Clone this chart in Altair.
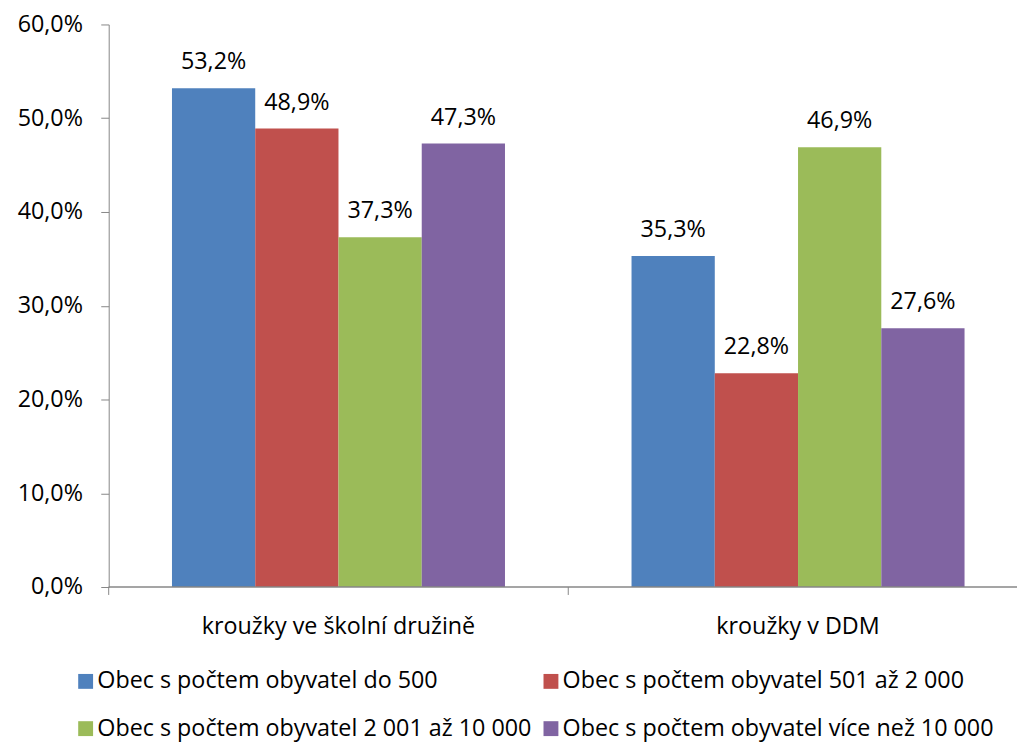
import altair as alt
import pandas as pd

categories = ["kroužky ve školní družině", "kroužky v DDM"]
series = [
    "Obec s počtem obyvatel do 500",
    "Obec s počtem obyvatel 501 až 2 000",
    "Obec s počtem obyvatel 2 001 až 10 000",
    "Obec s počtem obyvatel více než 10 000",
]
values_do_500 = [53.2, 35.3]
values_501_2000 = [48.9, 22.8]
values_2001_10000 = [37.3, 46.9]
values_nad_10000 = [47.3, 27.6]
colors = ["#4F81BD", "#C0504D", "#9BBB59", "#8064A2"]
y_ticks = [0, 10, 20, 30, 40, 50, 60]

rows = []
for s, vals in zip(series, [values_do_500, values_501_2000, values_2001_10000, values_nad_10000]):
    for c, v in zip(categories, vals):
        rows.append({"kategorie": c, "obec": s, "podil": v})
df = pd.DataFrame(rows)
cat_df = pd.DataFrame({"kategorie": categories})

FONT = "Open Sans"
FS = 23.5
AX = "#868686"
W, H = 907.5, 567

x_scale = alt.Scale(domain=categories, range=[0, 926.4], paddingInner=0, paddingOuter=0)
x_axis = alt.Axis(
    title=None, labelAngle=0, domain=False, ticks=False, labelPadding=28,
    labelFontSize=FS, labelFont=FONT, labelColor="black", labelLimit=1000, grid=False,
)
x_enc = alt.X("kategorie:N", sort=categories, scale=x_scale, axis=x_axis)
xo_enc = alt.XOffset("obec:N", sort=series, scale=alt.Scale(paddingInner=0, paddingOuter=0.76))
y_enc = alt.Y(
    "podil:Q",
    scale=alt.Scale(domain=[0, 60]),
    axis=alt.Axis(
        title=None, values=y_ticks, grid=False, domainColor=AX, tickColor=AX, tickSize=8,
        labelPadding=18.5, labelFontSize=FS, labelFont=FONT, labelColor="black",
        labelExpr="replace(format(datum.value, '.1f'), '.', ',') + '%'",
    ),
)

base = alt.Chart(df).encode(x=x_enc, xOffset=xo_enc, y=y_enc)

bars = base.mark_bar().encode(
    color=alt.Color(
        "obec:N",
        sort=series,
        scale=alt.Scale(domain=series, range=colors),
        legend=alt.Legend(
            title=None, orient="none", legendX=-35, legendY=650, columns=2,
            direction="horizontal", symbolType="square", symbolSize=225, symbolStrokeWidth=0,
            labelFontSize=FS, labelFont=FONT, labelColor="black", labelLimit=700,
            labelOffset=0, columnPadding=7, rowPadding=23, padding=0,
        ),
    )
)

labels = base.mark_text(baseline="alphabetic", dy=-19, fontSize=FS, font=FONT, color="black").encode(
    text="label:N"
).transform_calculate(label="replace(format(datum.podil, '.1f'), '.', ',') + '%'")

# category axis baseline (runs to the right edge like the original)
baseline = alt.Chart(cat_df).mark_rule(color=AX, strokeWidth=1).encode(
    x=alt.value(0), x2=alt.value(W + 8), y=alt.value(H)
)

# tick marks separating the category groups (at the start of each band)
sep_ticks = alt.Chart(cat_df).mark_rule(color=AX, strokeWidth=1).encode(
    x=alt.X("kategorie:N", sort=categories, scale=x_scale, bandPosition=0, axis=x_axis),
    y=alt.value(H),
    y2=alt.value(H + 8),
)

chart = (
    alt.layer(bars, labels, baseline, sep_ticks)
    .properties(
        width=W, height=H,
        autosize=alt.AutoSizeParams(type="none"),
        padding={"left": 101.5, "top": 13.7, "right": 8, "bottom": 153},
    )
    .configure_view(strokeWidth=0)
)

chart.save("out.html", embed_options={"renderer": "svg", "actions": False})
